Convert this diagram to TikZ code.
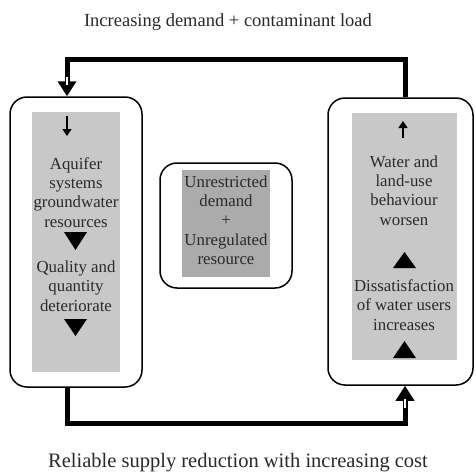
\documentclass[tikz,border=0pt]{standalone}
\usepackage{fontspec}
\setmainfont{Liberation Serif}
\usetikzlibrary{arrows.meta}
\definecolor{boxgray}{HTML}{C8C8C8}
\definecolor{midgray}{HTML}{ABABAB}
\definecolor{txt}{HTML}{2A2A2A}
\begin{document}
\begin{tikzpicture}[x=1pt,y=-1pt,
  outerbox/.style={draw=black,line width=1.5pt,rounded corners=17pt,inner sep=0pt,fill=white},
  graybox/.style={fill=boxgray,draw=none,inner sep=0pt},
  midbox/.style={fill=midgray,draw=none,inner sep=0pt},
  label/.style={text=txt,font=\fontsize{16.8}{19.3}\selectfont,align=center,inner sep=0pt},
  caption/.style={text=txt,font=\fontsize{18.5}{22}\selectfont,inner sep=0pt},
  loop/.style={line width=5pt,line join=miter},
  loophead/.style={-{Triangle[width=18pt,length=15pt]}},
  notch/.style={white,line width=2pt},
  smallarrow/.style={line width=1.6pt,-{Triangle[width=9pt,length=7pt]}},
  bigtri/.style={fill=black}
]
\useasboundingbox (0,0) rectangle (475,475);
\fill[white] (0,0) rectangle (475,475);

% outer boxes
\node[outerbox,minimum width=132pt,minimum height=290pt] (lbox) at (76,242) {};
\node[outerbox,minimum width=145pt,minimum height=287pt] (rbox) at (400.5,241.5) {};
\node[outerbox,minimum width=132pt,minimum height=125pt] (mbox) at (226,225.5) {};

% gray panels
\node[graybox,minimum width=88pt,minimum height=260pt] (lgray) at (76,242) {};
\node[graybox,minimum width=105pt,minimum height=247pt] (rgray) at (404.5,236.5) {};
\node[midbox,minimum width=88pt,minimum height=107pt] (mgray) at (226,223.5) {};

% texts
\node[label] (aq) at (76,192.5) {Aquifer\\systems\\groundwater\\resources};
\node[label] (qq) at (76,286) {Quality and\\quantity\\deteriorate};
\node[label] (wl) at (404,190.5) {Water and\\land-use\\behaviour\\worsen};
\node[label] (ds) at (404,305) {Dissatisfaction\\of water users\\increases};
\node[label] (ur) at (226,220) {Unrestricted\\demand\\+\\Unregulated\\resource};

\node[caption] (top) at (228,22) {Increasing demand + contaminant load};
\node[caption,font=\fontsize{20.5}{24}\selectfont] (bot) at (238,463) {Reliable supply reduction with increasing cost};

% small arrows
\coordinate (la1) at (67,116);
\coordinate (la2) at (67,136);
\draw[smallarrow] (la1) -- (la2);
\coordinate (ra1) at (403,138);
\coordinate (ra2) at (403,121);
\draw[smallarrow] (ra1) -- (ra2);

% big triangles
\fill[bigtri] (64,232) -- (87,232) -- (75.5,250) -- cycle;
\fill[bigtri] (64,319) -- (87,319) -- (75.5,336) -- cycle;
\fill[bigtri] (393,268) -- (416,268) -- (404.5,252) -- cycle;
\fill[bigtri] (393,358) -- (416,358) -- (404.5,341) -- cycle;

% feedback loop
\coordinate (tr) at (405,59);
\coordinate (tl) at (67,59);
\coordinate (bl) at (67,423);
\coordinate (br) at (405,423);
\draw[loop,loophead] (rbox.north -| tr) -- (tr) -- (tl) -- (lbox.north -| tl);
\draw[loop,loophead] (lbox.south -| bl) -- (bl) -- (br) -- (rbox.south -| br);
% white notches at the arrow bases
\coordinate (n1a) at (67,77);
\coordinate (n1b) at (67,85);
\draw[notch] (n1a) -- (n1b);
\coordinate (n2a) at (405,408);
\coordinate (n2b) at (405,399);
\draw[notch] (n2a) -- (n2b);
\end{tikzpicture}
\end{document}
